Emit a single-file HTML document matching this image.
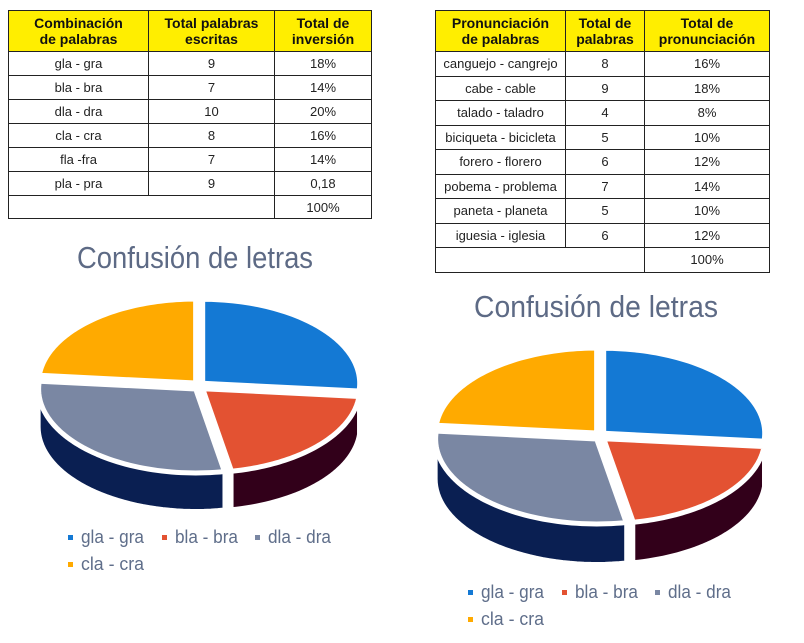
<!DOCTYPE html>
<html><head><meta charset="utf-8"><style>
body{margin:0;width:804px;height:643px;background:#fff;position:relative;overflow:hidden;font-family:"Liberation Sans",sans-serif}
table{position:absolute;border-collapse:collapse;font-size:13px;color:#222}
td,th{border:1px solid #222;text-align:center;padding:0}
th{background:#ffee00;font-weight:bold;font-size:14px;line-height:16px;color:#111}
svg{position:absolute;left:0;top:0}
</style></head><body>
<table style="left:8px;top:10px;width:364px">
<colgroup><col style="width:140px"><col style="width:126px"><col style="width:97px"></colgroup>
<tr style="height:41px"><th>Combinación<br>de palabras</th><th>Total palabras<br>escritas</th><th>Total de<br>inversión</th></tr>
<tr style="height:24px"><td>gla - gra</td><td>9</td><td>18%</td></tr>
<tr style="height:24px"><td>bla - bra</td><td>7</td><td>14%</td></tr>
<tr style="height:24px"><td>dla - dra</td><td>10</td><td>20%</td></tr>
<tr style="height:24px"><td>cla - cra</td><td>8</td><td>16%</td></tr>
<tr style="height:24px"><td>fla -fra</td><td>7</td><td>14%</td></tr>
<tr style="height:24px"><td>pla - pra</td><td>9</td><td>0,18</td></tr>
<tr style="height:23px"><td colspan="2"></td><td>100%</td></tr>
</table>
<table style="left:435px;top:10px;width:335px">
<colgroup><col style="width:130px"><col style="width:79px"><col style="width:125px"></colgroup>
<tr style="height:41px"><th>Pronunciación<br>de palabras</th><th>Total de<br>palabras</th><th>Total de<br>pronunciación</th></tr>
<tr style="height:24.5px"><td>canguejo - cangrejo</td><td>8</td><td>16%</td></tr>
<tr style="height:24.5px"><td>cabe - cable</td><td>9</td><td>18%</td></tr>
<tr style="height:24.5px"><td>talado - taladro</td><td>4</td><td>8%</td></tr>
<tr style="height:24.5px"><td>biciqueta - bicicleta</td><td>5</td><td>10%</td></tr>
<tr style="height:24.5px"><td>forero - florero</td><td>6</td><td>12%</td></tr>
<tr style="height:24.5px"><td>pobema - problema</td><td>7</td><td>14%</td></tr>
<tr style="height:24.5px"><td>paneta - planeta</td><td>5</td><td>10%</td></tr>
<tr style="height:24.5px"><td>iguesia - iglesia</td><td>6</td><td>12%</td></tr>
<tr style="height:24.5px"><td colspan="2"></td><td>100%</td></tr>
</table>
<svg id="s" width="804" height="643"></svg>
<script>
const categories=["gla - gra","bla - bra","dla - dra","cla - cra"];
const valuesLeft=[9,7,10,8];
const valuesRight=[9,7,10,8];
const topColors=["#1479d4","#e35232","#7a87a3","#ffaa00"];
const sideColors=["#0b4c8a","#32001a","#0a1f52","#a06a00"];
const NS="http://www.w3.org/2000/svg";
const svg=document.getElementById('s');
function mk(t,a){const e=document.createElementNS(NS,t);for(const k in a)e.setAttribute(k,a[k]);return e;}
function pie(vals,cx,cy,rx,ry,d,title,tx,ty,tw,lx,ly,id){
  const tot=vals.reduce((a,b)=>a+b,0);
  const t=mk('text',{x:tx,y:ty,'font-size':31,fill:'#5d6a85',textLength:tw,lengthAdjust:'spacingAndGlyphs'});
  t.textContent=title;svg.appendChild(t);
  let a=0;const sl=[];
  vals.forEach((v,i)=>{const b=a+v/tot*2*Math.PI;sl.push([a,b]);a=b;});
  const P=(th,ox,oy,dy)=>[cx+ox+rx*Math.sin(th),cy+oy-ry*Math.cos(th)+(dy||0)];
  const off=(i)=>{const m=(sl[i][0]+sl[i][1])/2;return [5*Math.sin(m),-4*Math.cos(m)];};
  sl.forEach(([s,e],i)=>{const lo=Math.max(s,Math.PI/2),hi=Math.min(e,1.5*Math.PI);if(hi<=lo)return;
    const [ox,oy]=off(i);let pts=[];
    for(let k=0;k<=40;k++){const th=lo+(hi-lo)*k/40;pts.push(P(th,ox,oy));}
    for(let k=40;k>=0;k--){const th=lo+(hi-lo)*k/40;pts.push(P(th,ox,oy,d));}
    const p=mk('polygon',{points:pts.map(q=>q.join(',')).join(' '),fill:sideColors[i],stroke:'#fff','stroke-width':4});
    svg.appendChild(p);});
  sl.forEach(([s,e],i)=>{const [ox,oy]=off(i);let pts=[[cx+ox,cy+oy]];
    for(let k=0;k<=60;k++){pts.push(P(s+(e-s)*k/60,ox,oy));}
    const p=mk('polygon',{points:pts.map(q=>q.join(',')).join(' '),fill:topColors[i],stroke:'#fff','stroke-width':5,'stroke-linejoin':'round'});
    svg.appendChild(p);});
  const lxs=[0,94,187,0];
  categories.forEach((c,i)=>{const x=lx+lxs[i],y=ly+(i==3?27:0);
    const r=mk('rect',{x:x,y:y-8,width:5,height:5,fill:topColors[i]});
    svg.appendChild(r);
    const tt=mk('text',{x:x+13,y:y,'font-size':18,fill:'#5f6e8a',textLength:63,lengthAdjust:'spacingAndGlyphs'});tt.textContent=c;
    svg.appendChild(tt);});
}
pie(valuesLeft,199,386,157,84,38,"Confusión de letras",77,268,236,68,543,'left-pie');
pie(valuesRight,600,436,161,85,40,"Confusión de letras",474,317,244,468,598,'right-pie');
</script>
</body></html>
